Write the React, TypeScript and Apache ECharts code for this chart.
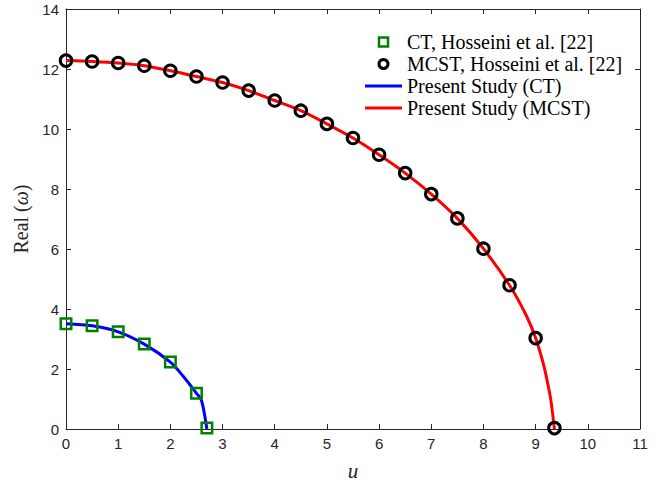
import React, { useEffect, useRef } from "react";
import * as echarts from "echarts";

// Reference markers (Hosseini et al. [22])
const ctU = [0, 0.5, 1, 1.5, 2, 2.5, 2.7];
const ctW = [3.51, 3.44, 3.24, 2.83, 2.23, 1.19, 0.03];

const mcstU = [0, 0.5, 1, 1.5, 2, 2.5, 3, 3.5, 4, 4.5, 5, 5.5, 6, 6.5, 7, 7.5, 8, 8.5, 9, 9.36];
const mcstW = [12.28, 12.25, 12.2, 12.11, 11.94, 11.75, 11.55, 11.28, 10.95, 10.61, 10.17, 9.7, 9.14, 8.53, 7.83, 7.02, 6.01, 4.79, 3.03, 0.03];

// Present study curves
const ctLineU = [0, 0.5, 1, 1.5, 2, 2.25, 2.5, 2.59, 2.65, 2.7];
const ctLineW = [3.51, 3.44, 3.24, 2.83, 2.23, 1.75, 1.19, 0.98, 0.53, 0];

const mcstLineU = [0, 0.5, 1, 1.5, 2, 2.5, 3, 3.5, 4, 4.5, 5, 5.5, 6, 6.5, 7, 7.5, 8, 8.5, 8.83, 9, 9.16, 9.23, 9.29, 9.36];
const mcstLineW = [12.28, 12.25, 12.2, 12.11, 11.94, 11.75, 11.55, 11.28, 10.95, 10.61, 10.17, 9.7, 9.14, 8.53, 7.83, 7.02, 6.01, 4.79, 3.75, 3.03, 2.09, 1.53, 0.98, 0];

const xTicks = { min: 0, max: 11, interval: 1 };
const yTicks = { min: 0, max: 14, interval: 2 };

const names = [
  "CT, Hosseini et al. [22]",
  "MCST, Hosseini et al. [22]",
  "Present Study (CT)",
  "Present Study (MCST)",
];

const zip = (a: number[], b: number[]) => a.map((v, i) => [v, b[i]]);

export default function App() {
  const ref = useRef<HTMLDivElement>(null);
  useEffect(() => {
    if (!ref.current) return;
    const chart = echarts.init(ref.current, undefined, { renderer: "svg" });
    const axisColor = "#262626";
    const serif = "Liberation Serif, Times New Roman, serif";
    const tickFont = { fontFamily: "Liberation Sans, Arial, sans-serif", fontSize: 15, color: axisColor };
    const baseX = {
      type: "value" as const,
      ...xTicks,
      axisLine: { show: true, onZero: false, lineStyle: { color: axisColor, width: 1 } },
      axisTick: { show: true, inside: true, length: 5, lineStyle: { color: axisColor } },
      splitLine: { show: false },
    };
    const baseY = {
      type: "value" as const,
      ...yTicks,
      axisLine: { show: true, onZero: false, lineStyle: { color: axisColor, width: 1 } },
      axisTick: { show: true, inside: true, length: 5, lineStyle: { color: axisColor } },
      splitLine: { show: false },
    };
    const barIcon = "path://M0,0H37V3H0Z";
    chart.setOption({
      animation: false,
      backgroundColor: "#ffffff",
      grid: { left: 66, top: 9, right: 17, bottom: 54, containLabel: false, outerBoundsMode: "none" },
      xAxis: [
        {
          ...baseX,
          position: "bottom",
          axisLabel: { ...tickFont, margin: 7 },
          name: "u",
          nameLocation: "middle",
          nameGap: 31,
          nameTextStyle: { fontFamily: serif, fontStyle: "italic", fontSize: 21, color: axisColor },
        },
        { ...baseX, position: "top", axisLabel: { show: false } },
      ],
      yAxis: [
        {
          ...baseY,
          position: "left",
          axisLabel: { ...tickFont, margin: 7 },
          name: "Real ({i|ω})",
          nameLocation: "middle",
          nameGap: 34,
          nameRotate: 90,
          nameTextStyle: {
            fontFamily: serif,
            fontSize: 20,
            color: axisColor,
            rich: {
              i: { fontFamily: serif, fontStyle: "italic", fontSize: 20, color: axisColor },
            },
          },
        },
        { ...baseY, position: "right", axisLabel: { show: false } },
      ],
      legend: {
        orient: "vertical",
        left: 360,
        top: 27,
        itemWidth: 37,
        itemHeight: 9,
        itemGap: 2,
        symbolKeepAspect: true,
        textStyle: { fontFamily: serif, fontSize: 20, lineHeight: 20, color: "#000" },
        data: [
          {
            name: names[0],
            icon: "path://M0,0H10V10H0Z",
            itemStyle: { color: "rgba(0,0,0,0)", borderColor: "#008000", borderWidth: 2.5 },
          },
          {
            name: names[1],
            icon: "circle",
            itemStyle: { color: "rgba(0,0,0,0)", borderColor: "#000000", borderWidth: 3 },
          },
          { name: names[2], icon: barIcon, itemStyle: { color: "#0000ff", borderWidth: 0, opacity: 1 } },
          { name: names[3], icon: barIcon, itemStyle: { color: "#ff0000", borderWidth: 0, opacity: 1 } },
        ],
      },
      series: [
        {
          name: names[2],
          type: "line",
          data: zip(ctLineU, ctLineW),
          symbol: "none",
          smooth: 0.3,
          lineStyle: { color: "#0000ff", width: 3 },
          itemStyle: { color: "#0000ff" },
          z: 2,
        },
        {
          name: names[3],
          type: "line",
          data: zip(mcstLineU, mcstLineW),
          symbol: "none",
          smooth: 0.3,
          lineStyle: { color: "#ff0000", width: 3 },
          itemStyle: { color: "#ff0000" },
          z: 2,
        },
        {
          name: names[0],
          type: "scatter",
          data: zip(ctU, ctW),
          symbol: "rect",
          symbolSize: 10.5,
          itemStyle: { color: "rgba(0,0,0,0)", borderColor: "#008000", borderWidth: 2.5, opacity: 1 },
          z: 3,
        },
        {
          name: names[1],
          type: "scatter",
          data: zip(mcstU, mcstW),
          symbol: "circle",
          symbolSize: 11.5,
          itemStyle: { color: "rgba(0,0,0,0)", borderColor: "#000000", borderWidth: 3, opacity: 1 },
          z: 3,
        },
      ],
    });
    return () => chart.dispose();
  }, []);
  return (
    <div
      ref={ref}
      style={{ position: "fixed", left: 0, top: 0, width: 657, height: 483, background: "#fff" }}
    />
  );
}
